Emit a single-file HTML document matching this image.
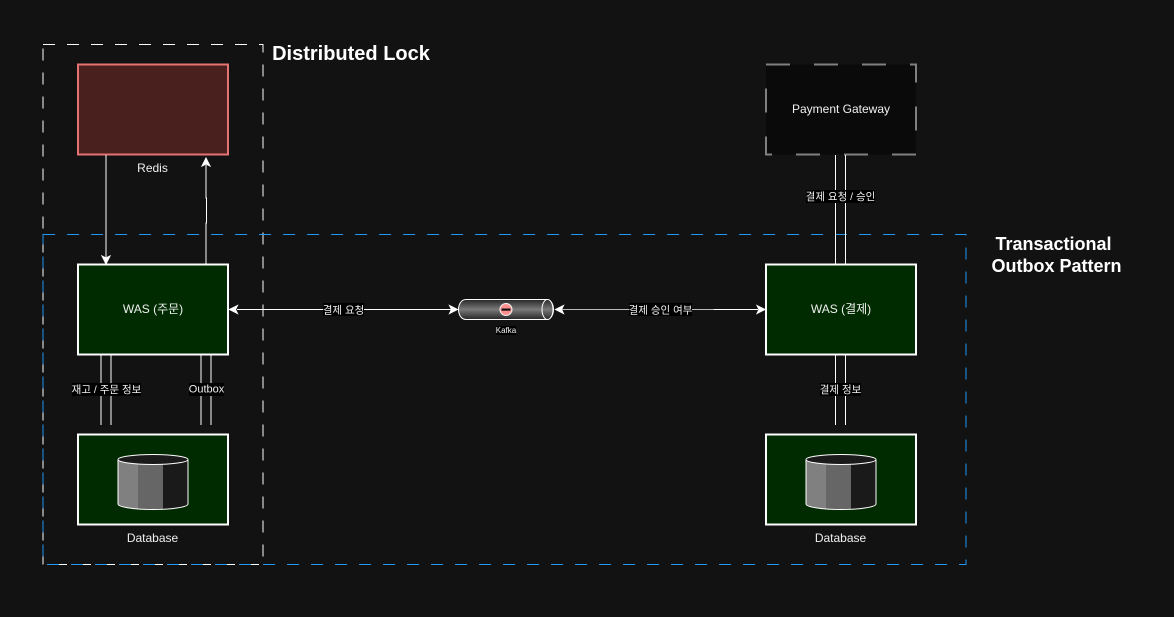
<!DOCTYPE html>
<html><head><meta charset="utf-8"><style>
html,body{margin:0;padding:0;background:#121212}
svg{display:block}
text{font-family:"Liberation Sans","Noto Sans CJK KR","NanumGothic",sans-serif;fill:#f0f0f0;text-anchor:middle;dominant-baseline:central}
.b{font-weight:bold;fill:#fff}
</style></head><body>
<svg width="1174" height="617" viewBox="0 0 1174 617" xmlns="http://www.w3.org/2000/svg">
<defs>
<linearGradient id="k" x1="0" y1="0" x2="0" y2="1"><stop offset="0" stop-color="#262626"/><stop offset=".5" stop-color="#7a7a7a"/><stop offset="1" stop-color="#262626"/></linearGradient>
</defs>
<rect width="1174" height="617" fill="#121212"/>
<rect x="43" y="44.5" width="220" height="520" fill="none" stroke="#fff" stroke-dasharray="12 12"/>
<rect x="43" y="234.5" width="923" height="330" fill="none" stroke="#2196f3" stroke-dasharray="12 12"/>

<rect x="78" y="64.5" width="150" height="90" fill="#4a201f" stroke="#e57373" stroke-width="2"/>
<text x="152.5" y="168" font-size="12">Redis</text>
<path d="M106 155V258" stroke="#fff" fill="none"/>
<path d="M106 264L102 256L106 258L110 256Z" fill="#fff" stroke="#fff"/>
<path d="M206 264V223H206.500V198H206V165" stroke="#fff" fill="none"/>
<path d="M206 158L210 166L206 164L202 166Z" fill="#fff" stroke="#fff"/>

<rect x="766" y="64.500" width="150" height="90" fill="#0a0a0a" stroke="#808080" stroke-width="2" stroke-dasharray="24 24"/>
<text x="841" y="109" font-size="12">Payment Gateway</text>

<path d="M835.500 155V264M845.500 155V264M835.500 355V425M845.500 355V425" stroke="#fff" fill="none"/>
<path d="M101 355V425M111 355V425M201 355V425M211 355V425" stroke="#fff" fill="none"/>

<rect x="78" y="264.500" width="150" height="90" fill="#002b00" stroke="#fff" stroke-width="2"/>
<text x="153" y="309" font-size="12">WAS (주문)</text>
<rect x="766" y="264.500" width="150" height="90" fill="#002b00" stroke="#fff" stroke-width="2"/>
<text x="841" y="309" font-size="12">WAS (결제)</text>

<rect x="78" y="434.500" width="150" height="90" fill="#002b00" stroke="#fff" stroke-width="2"/>
<rect x="766" y="434.500" width="150" height="90" fill="#002b00" stroke="#fff" stroke-width="2"/>
<text x="152.500" y="538" font-size="12">Database</text>
<text x="840.500" y="538" font-size="12">Database</text>

<g>
<path d="M118 460V504C118 507 134 509.500 153 509.500C172 509.500 188 507 188 504V460Z" fill="#1a1a1a"/>
<path d="M118 460V504C118 506 126 508 138 509V460Z" fill="#808080"/>
<path d="M138 460V509C146 509.500 154 509.500 163 509.300V460Z" fill="#666"/>
<path d="M118 460V504C118 507 134 509.500 153 509.500C172 509.500 188 507 188 504V460" fill="none" stroke="#fff"/>
<ellipse cx="153" cy="459.500" rx="35" ry="5" fill="#1a1a1a" stroke="#fff"/>
</g>
<g>
<path d="M806 460V504C806 507 822 509.500 841 509.500C860 509.500 876 507 876 504V460Z" fill="#1a1a1a"/>
<path d="M806 460V504C806 506 814 508 826 509V460Z" fill="#808080"/>
<path d="M826 460V509C834 509.500 842 509.500 851 509.300V460Z" fill="#666"/>
<path d="M806 460V504C806 507 822 509.500 841 509.500C860 509.500 876 507 876 504V460" fill="none" stroke="#fff"/>
<ellipse cx="841" cy="459.500" rx="35" ry="5" fill="#1a1a1a" stroke="#fff"/>
</g>

<path d="M237 309.500H451" stroke="#fff" fill="none"/>
<path d="M229.500 309.500L237.500 305.500L235.500 309.500L237.500 313.500Z" fill="#fff" stroke="#fff"/>
<path d="M457.500 309.500L449.500 305.500L451.500 309.500L449.500 313.500Z" fill="#fff" stroke="#fff"/>
<path d="M562 309.500H714" stroke="#bbb" fill="none"/>
<path d="M714 309.500H758" stroke="#fff" fill="none"/>
<path d="M555.500 309.500L563.500 305.500L561.500 309.500L563.500 313.500Z" fill="#fff" stroke="#fff"/>
<path d="M765 309.500L757 305.500L759 309.500L757 313.500Z" fill="#fff" stroke="#fff"/>

<path d="M466 299.500H547C550.500 299.500 553.500 304 553.500 309.500C553.500 315 550.500 319.500 547 319.500H466C461.500 319.500 458.500 315 458.500 309.500C458.500 304 461.500 299.500 466 299.500Z" fill="url(#k)" stroke="#fff"/>
<ellipse cx="547.500" cy="309.500" rx="5.500" ry="10" fill="url(#k)" stroke="#fff"/>
<circle cx="506" cy="309.500" r="6" fill="#ff8f8f" stroke="#f4f4f4"/>
<rect x="501.500" y="308.500" width="9" height="2.200" fill="#111"/>

<rect x="496" y="326" width="20" height="9" fill="#000"/>
<text x="506" y="330.500" font-size="8">Kafka</text>
<rect x="323" y="303" width="41" height="13" fill="#000"/>
<text x="343.500" y="310.500" font-size="10.500">결제 요청</text>
<rect x="629" y="303" width="63" height="13" fill="#000"/>
<text x="660.500" y="310.500" font-size="10.500">결제 승인 여부</text>
<rect x="806" y="190" width="69" height="13" fill="#000"/>
<text x="840.500" y="197" font-size="10.500">결제 요청 / 승인</text>
<rect x="820" y="383" width="41" height="13" fill="#000"/>
<text x="840.500" y="390" font-size="10.500">결제 정보</text>
<rect x="72" y="383" width="69" height="13" fill="#000"/>
<text x="106.500" y="390" font-size="10.500">재고 / 주문 정보</text>
<rect x="189" y="383" width="35" height="13" fill="#000"/>
<text x="206.500" y="389.500" font-size="11">Outbox</text>

<text class="b" x="351" y="54" font-size="20">Distributed Lock</text>
<text class="b" x="1053.500" y="244" font-size="18">Transactional</text>
<text class="b" x="1056.500" y="266" font-size="18">Outbox Pattern</text>
</svg>
</body></html>
